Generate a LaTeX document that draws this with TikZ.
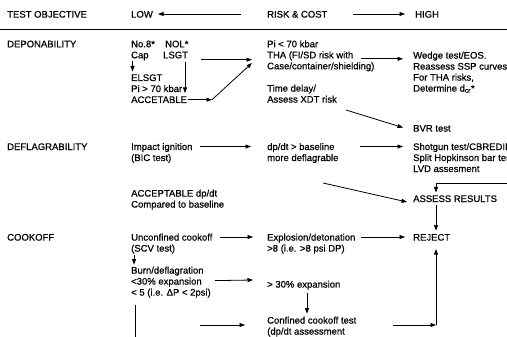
\documentclass[tikz,border=0pt]{standalone}
\usepackage{fontspec}
\setmainfont{Liberation Sans}[RawFeature={embolden=0.6}]
\usetikzlibrary{calc,arrows.meta}
\newcommand{\mlines}[1]{\begin{tabular}[t]{@{}l@{}}#1\end{tabular}}
\begin{document}
\begin{tikzpicture}[x=1pt,y=-1pt,
  txt/.style={anchor=base west,inner sep=0pt,font=\fontsize{9.5}{11}\selectfont},
  arr/.style={-{Triangle[length=5.5pt,width=4pt]},line width=0.8pt},
  ln/.style={line width=0.8pt}]
\useasboundingbox (0,0) rectangle (507,337);
% header
\node[txt] (hdr) at (7,17.6) {TEST OBJECTIVE};
\node[txt] (low) at (131,17.6) {LOW};
\node[txt] (risk) at (267,17.6) {RISK \& COST};
\node[txt] (high) at (415,17.6) {HIGH};
\draw[ln] (0,29.5) -- (507,29.5);
% deponability
\node[txt] (dep) at (7,47.3) {DEPONABILITY};
\node[txt] (no8) at (131,47.3) {No.8*};
\node[txt] (nol) at (165,47.3) {NOL*};
\node[txt] (cap) at (131,58.3) {Cap};
\node[txt] (lsgt) at (163,58.3) {LSGT};
\node[txt] (pilo) at (267,47.3) {Pi < 70 kbar};
\node[txt] (tha) at (267,58.3) {\mlines{THA (FI/SD risk with\\Case/container/shielding)}};
\node[txt] (wedge) at (413,58.6) {\mlines{Wedge test/EOS.\\Reassess SSP curves\\For THA risks,\\Determine d\textsubscript{cr}*}};
\node[txt] (elsgt) at (131,81) {\mlines{ELSGT\\Pi > 70 kbar\\ACCETABLE}};
\node[txt] (time) at (267,91.6) {\mlines{Time delay/\\Assess XDT risk}};
\node[txt] (bvr) at (413,131.6) {BVR test};
% deflagrability
\node[txt] (defl) at (7,150) {DEFLAGRABILITY};
\node[txt] (impact) at (131,150) {\mlines{Impact ignition\\(BIC test)}};
\node[txt] (dpdt) at (267,150) {\mlines{dp/dt > baseline\\more deflagrable}};
\node[txt] (shot) at (413,150) {\mlines{Shotgun test/CBREDII\\Split Hopkinson bar test\\LVD assesment}};
\node[txt] (accdp) at (131,196.6) {\mlines{ACCEPTABLE dp/dt\\Compared to baseline}};
\node[txt] (assess) at (413,202) {ASSESS RESULTS};
% cookoff
\node[txt] (cook) at (7,240.6) {COOKOFF};
\node[txt] (uncon) at (131,240.6) {\mlines{Unconfined cookoff\\(SCV test)}};
\node[txt] (expl) at (267,240.6) {\mlines{Explosion/detonation\\>8 (i.e. >8 psi DP)}};
\node[txt] (reject) at (413,240.6) {REJECT};
\node[txt] (burn) at (131,273.6) {\mlines{Burn/deflagration\\<30\% expansion\\< 5 (i.e. ΔP < 2psi)}};
\node[txt] (gt30) at (267,287.6) {> 30\% expansion};
\node[txt] (conf) at (267,323.6) {\mlines{Confined cookoff test\\(dp/dt assessment}};
\coordinate (offr) at (512,183);
\coordinate (offb) at (135,345);
\coordinate (cor) at (436,325);
% connectors
\draw[arr] ($(risk.base west)+(-26,-3.6)$) -- ($(low.base west)+(27,-3.6)$);
\draw[arr] ($(high.base west)+(-62,-3.6)$) -- ($(high.base west)+(-10,-3.6)$);
\draw[arr] ($(lsgt.base west)+(38,1.4)$) -- ($(tha.base west)+(-15,1.4)$);
\draw[arr] ($(tha.base west)+(94,0.5)$) -- ($(wedge.base west)+(-10,0.2)$);
\draw[arr] ($(cap.base west)+(1.5,3)$) -- ($(elsgt.base west)+(1.5,-9.5)$);
\draw[arr] ($(lsgt.base west)+(22,3.5)$) -- ($(elsgt.base west)+(54,12)$);
\draw[arr] ($(elsgt.base west)+(57,18.7)$) -- ($(elsgt.base west)+(81,18.7)$);
\draw[arr] ($(elsgt.base west)+(81,18.7)$) -- ($(tha.base west)+(-15,4.7)$);
\draw[arr] ($(time.base west)+(79,18.4)$) -- ($(bvr.base west)+(-10,-4)$);
\draw[arr] ($(impact.base west)+(69,-3.5)$) -- ($(dpdt.base west)+(-16,-3.5)$);
\draw[arr] ($(dpdt.base west)+(93,-3.5)$) -- ($(shot.base west)+(-10,-3.5)$);
\draw[arr] ($(dpdt.base west)+(56,33)$) -- ($(assess.base west)+(-6,0)$);
\draw[arr] (offr) -| ($(assess.base west)+(23,-9.5)$);
\draw[arr] ($(assess.base west)+(23,3)$) -- ($(reject.base west)+(23,-10)$);
\draw[arr] ($(uncon.base west)+(89,-3.6)$) -- ($(expl.base west)+(-14,-3.6)$);
\draw[arr] ($(expl.base west)+(94,-3.6)$) -- ($(reject.base west)+(-8,-3.6)$);
\draw[arr] ($(uncon.base west)+(3,14)$) -- ($(burn.base west)+(3,-9)$);
\draw[arr] ($(burn.base west)+(84,7)$) -- ($(gt30.base west)+(-14,-7.6)$);
\draw[arr] ($(gt30.base west)+(40,5)$) -- ($(conf.base west)+(40,-10)$);
\draw[ln] ($(burn.base west)+(4,31)$) -- (offb);
\draw[arr] ($(conf.base west)+(-67,1.4)$) -- ($(conf.base west)+(-22,1.4)$);
\draw[arr] ($(conf.base west)+(126,1.4)$) -- (cor);
\draw[arr] (cor) -- ($(reject.base west)+(23,8.5)$);
\end{tikzpicture}
\end{document}
